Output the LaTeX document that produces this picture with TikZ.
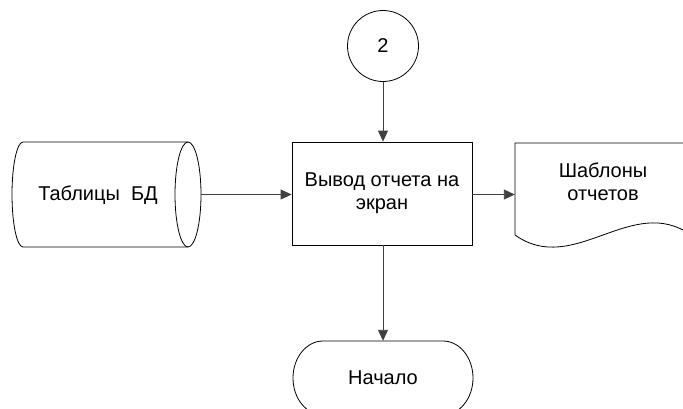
\documentclass[tikz,border=0pt]{standalone}
\usepackage{fontspec}
\setmainfont{Liberation Sans}
\usetikzlibrary{arrows.meta}
\begin{document}
\begin{tikzpicture}[x=1pt,y=-1pt,
  shapeline/.style={draw=black,line width=0.8pt},
  lbl/.style={font=\fontsize{20}{23}\selectfont,align=center,inner sep=0pt},
  flow/.style={draw=black!75,line width=0.9pt,-{Triangle[length=11pt,width=10pt]}}]
% y axis points down, so angle -90 is the top of an arc and 90 its bottom
\clip (0,0) rectangle (683,408);
\fill[white] (0,0) rectangle (683,408);

% connector circle
\node[shapeline,circle,minimum size=71pt,lbl] (c2) at (383,46) {2};

% process box
\node[shapeline,rectangle,minimum width=180pt,minimum height=103pt,lbl] (box) at (382,193.5)
  {Вывод отчета на\\экран};

% stored data (database tables)
\node[minimum width=189pt,minimum height=105pt,inner sep=0pt] (tbl) at (106.5,194.5) {};
\node[lbl] at (98,195) {Таблицы\ \ БД};
\draw[shapeline] (23,142) -- (188,142)
  arc[start angle=-90,end angle=90,x radius=13,y radius=52.5]
  -- (23,247)
  arc[start angle=90,end angle=270,x radius=11,y radius=52.5];
\draw[shapeline] (188,142) arc[start angle=-90,end angle=-270,x radius=13,y radius=52.5];

% document (report templates)
\node[minimum width=176pt,minimum height=105pt,inner sep=0pt] (tpl) at (603,190) {};
\node[lbl] at (603,181.5) {Шаблоны\\отчетов};
\draw[shapeline] (515,235) -- (515,143) -- (691,143) -- (691,235)
  .. controls (632,193) and (574,277) .. (515,235);

% terminator
\node[minimum width=178pt,minimum height=74pt,inner sep=0pt] (start) at (383,378) {};
\node[lbl] at (383,378) {Начало};
\draw[shapeline] (323,341) -- (443,341)
  arc[start angle=-90,end angle=90,x radius=30,y radius=37]
  -- (323,415)
  arc[start angle=90,end angle=270,x radius=30,y radius=37];

% connectors
\draw[flow] (c2.south) -- (c2.south |- box.north);
\draw[flow] (tbl.east) -- (tbl.east -| box.west);
\draw[flow] (box.east |- tbl.east) -- (tbl.east -| tpl.west);
\draw[flow] (box.south -| start.north) -- (start.north);
\end{tikzpicture}
\end{document}
